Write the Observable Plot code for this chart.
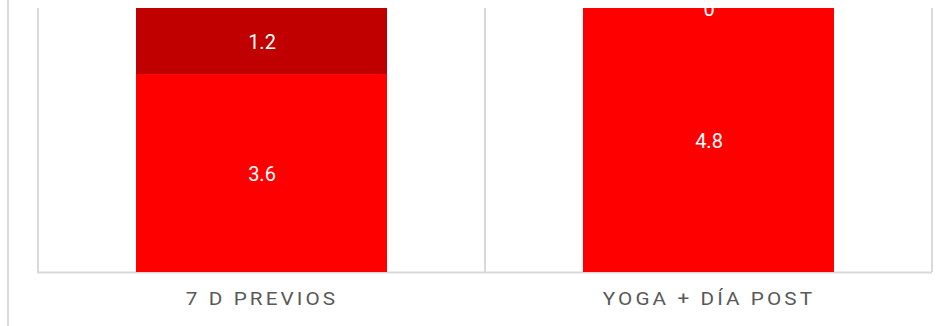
<!DOCTYPE html>
<html><head><meta charset="utf-8">
<script src="https://cdn.jsdelivr.net/npm/d3@7"></script>
<script src="https://cdn.jsdelivr.net/npm/@observablehq/plot@0.6"></script>
<style>
html,body{margin:0;padding:0;background:#fff;}
#wrap{position:relative;width:950px;height:326px;overflow:hidden;}
#border{position:absolute;left:7px;top:0;width:0;height:326px;border-left:2px solid #d9d9d9;}
#chart{position:absolute;left:0;top:0;}
#chart g[aria-label="x-axis tick label"] text{letter-spacing:2.7px;}
</style></head><body>
<div id="wrap"><div id="border"></div><div id="chart"></div></div>
<script>
const categories = ["7 D PREVIOS", "YOGA + DÍA POST"];
const seriesNames = ["base", "extra"];
const baseValues = [3.6, 4.8];
const extraValues = [1.2, 0];
const seriesColors = ["#ff0000", "#c00000"];

const data = [];
categories.forEach((c, i) => {
  data.push({cat: c, series: seriesNames[0], value: baseValues[i]});
  data.push({cat: c, series: seriesNames[1], value: extraValues[i]});
});

const chart = Plot.plot({
  width: 950, height: 326,
  marginTop: 8, marginBottom: 54, marginLeft: 37, marginRight: 18,
  style: {fontFamily: "Roboto", background: "transparent", overflow: "visible"},
  x: {domain: categories, paddingInner: 0.439, paddingOuter: 0.2195, label: null},
  y: {domain: [0, 4.8], axis: null},
  color: {domain: seriesNames, range: seriesColors},
  marks: [
    Plot.ruleY([0], {stroke: "#d9d9d9", strokeWidth: 2}),
    Plot.barY(data, {x: "cat", y: "value", fill: "series"}),
    Plot.text(data, Plot.stackY({x: "cat", y: "value", z: "series", text: d => String(d.value), fill: "white", fontSize: 20, dy: 1.5, ariaLabel: "value-labels"})),
    Plot.axisX({tickSize: 0, tickPadding: 20, fontSize: 18, fill: "#595959", label: null})
  ]
});

const xs = chart.scale("x");
const ys = chart.scale("y");
const gap = xs.step - xs.bandwidth;
const bounds = [xs.apply(categories[0]) - gap / 2, ...categories.map(c => xs.apply(c) + xs.bandwidth + gap / 2)];
d3.select(chart).insert("g", ":first-child")
  .selectAll("line").data(bounds).join("line")
  .attr("x1", d => d).attr("x2", d => d)
  .attr("y1", ys.apply(4.8)).attr("y2", ys.apply(0))
  .attr("stroke", "#d9d9d9").attr("stroke-width", 2);

// slightly wider glyphs, like the reference's font
function stretch(sel, s) {
  d3.select(chart).selectAll(sel).each(function () {
    const t = this.getAttribute("transform") || "";
    this.setAttribute("transform", t + ` scale(${s},1)`);
  });
}
stretch('g[aria-label="value-labels"] text', 1.25);
stretch('g[aria-label="x-axis tick label"] text', 1.15);

document.getElementById("chart").appendChild(chart);
</script>
</body></html>
